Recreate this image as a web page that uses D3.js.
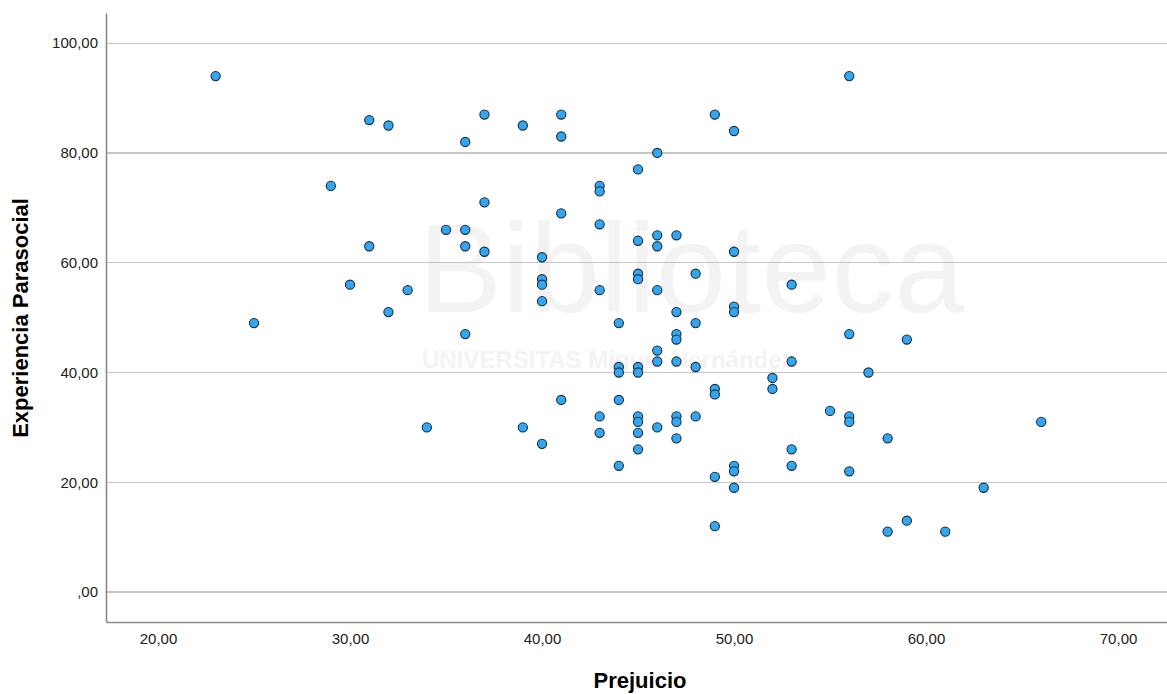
<!DOCTYPE html>
<meta charset="utf-8">
<style>

body { margin: 0; background: #fff; font-family: Arial, "Liberation Sans", sans-serif; }

.grid line { stroke: #c6c6c6; stroke-width: 1.2; shape-rendering: crispEdges; }

.axis path { stroke: #8a8a8a; stroke-width: 1.6; fill: none; }
.axis line { display: none; }
.axis text { font-size: 15px; fill: #222; font-family: Arial, "Liberation Sans", sans-serif; }

.dot { fill: #31a6f2; stroke: #1c2a36; stroke-width: 1.1; }

</style>
<head>
<title>Prejuicio vs Experiencia Parasocial</title>
<script src="https://d3js.org/d3.v7.min.js"></script>
</head>

<body>
<script>

// Prejuicio (x) and Experiencia Parasocial (y), one entry per case
var prejuicio = [23, 25, 29, 30, 31, 31, 32, 32, 33, 34, 35, 36, 36, 36, 36, 37, 37, 37, 39, 39,
    40, 40, 40, 40, 40, 41, 41, 41, 41, 43, 43, 43, 43, 43, 43, 44, 44, 44, 44, 44,
    45, 45, 45, 45, 45, 45, 45, 45, 45, 45, 46, 46, 46, 46, 46, 46, 46, 47, 47, 47,
    47, 47, 47, 47, 47, 48, 48, 48, 48, 49, 49, 49, 49, 49, 50, 50, 50, 50, 50, 50,
    50, 52, 52, 53, 53, 53, 53, 55, 56, 56, 56, 56, 56, 57, 58, 58, 59, 59, 61, 63, 66];

var experiencia = [94, 49, 74, 56, 86, 63, 85, 51, 55, 30, 66, 82, 66, 63, 47, 87, 71, 62, 85, 30,
    61, 57, 56, 53, 27, 87, 83, 69, 35, 74, 73, 67, 55, 32, 29, 49, 41, 40, 35, 23,
    77, 64, 58, 57, 41, 40, 32, 31, 29, 26, 80, 65, 63, 55, 44, 42, 30, 65, 51, 47,
    46, 42, 32, 31, 28, 58, 49, 41, 32, 87, 37, 36, 21, 12, 84, 62, 52, 51, 23, 22,
    19, 39, 37, 56, 42, 26, 23, 33, 94, 47, 32, 31, 22, 40, 28, 11, 46, 13, 11, 19, 31];

var xTicks = [20, 30, 40, 50, 60, 70];
var yTicks = [0, 20, 40, 60, 80, 100];

var xTitle = "Prejuicio",
    yTitle = "Experiencia Parasocial";

var W = 1167, H = 694;
var plot = { left: 106, right: 1167, top: 13, bottom: 622 };

var svg = d3.select("body")
    .append("svg")
        .attr("width", W)
        .attr("height", H);

// X Scale
var x = d3.scaleLinear()
    .domain([17.29, 72.55])
    .range([plot.left, plot.right]);

// Y Scale
var y = d3.scaleLinear()
    .domain([-5.46, 105.5])
    .range([plot.bottom, plot.top]);

// SPSS style numbers: 20,00 and ,00
function spss(d) {
    return d === 0 ? ",00" : d.toFixed(2).replace(".", ",");
}

// faint watermark behind the plot
var wm = svg.append("g").attr("fill", "#f3f3f3");
wm.append("text")
    .attr("x", 418)
    .attr("y", 312)
    .attr("font-size", "126px")
    .attr("font-family", "Arial, sans-serif")
    .text("Biblioteca");
wm.append("text")
    .attr("x", 422)
    .attr("y", 368)
    .attr("font-size", "24px")
    .attr("font-weight", "bold")
    .attr("font-family", "Arial, sans-serif")
    .text("UNIVERSITAS Miguel Hernández");

// horizontal grid lines
svg.append("g")
    .attr("class", "grid")
    .selectAll("line")
    .data(yTicks)
    .enter()
    .append("line")
        .attr("x1", plot.left)
        .attr("x2", plot.right)
        .attr("y1", function(d){ return y(d); })
        .attr("y2", function(d){ return y(d); });

// X Axis
svg.append("g")
    .attr("class", "x axis")
    .attr("transform", "translate(0," + plot.bottom + ")")
    .call(d3.axisBottom(x)
        .tickValues(xTicks)
        .tickFormat(spss)
        .tickSizeInner(0)
        .tickSizeOuter(0)
        .tickPadding(11));

// Y Axis
svg.append("g")
    .attr("class", "y axis")
    .attr("transform", "translate(" + plot.left + ",0)")
    .call(d3.axisLeft(y)
        .tickValues(yTicks)
        .tickFormat(spss)
        .tickSizeInner(0)
        .tickSizeOuter(0)
        .tickPadding(8));

// X Label
svg.append("text")
    .attr("x", 640)
    .attr("y", 688)
    .attr("font-size", "22px")
    .attr("font-weight", "bold")
    .attr("text-anchor", "middle")
    .text(xTitle);

// Y Label
svg.append("text")
    .attr("transform", "translate(28," + 318 + ") rotate(-90)")
    .attr("font-size", "22px")
    .attr("font-weight", "bold")
    .attr("text-anchor", "middle")
    .text(yTitle);

// points
svg.append("g")
    .selectAll("circle")
    .data(d3.range(prejuicio.length))
    .enter()
    .append("circle")
        .attr("class", "dot")
        .attr("cx", function(i){ return x(prejuicio[i]); })
        .attr("cy", function(i){ return y(experiencia[i]); })
        .attr("r", 4.6);

</script>
</body>
</html>
